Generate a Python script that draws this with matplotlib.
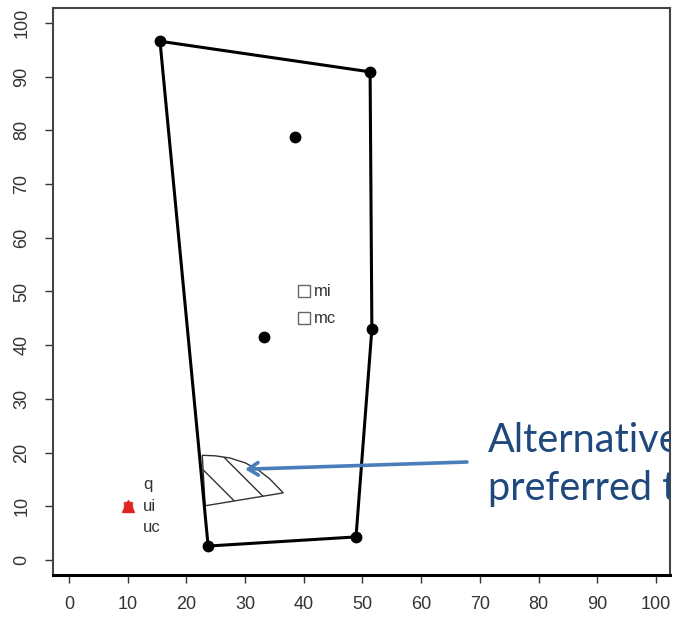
import matplotlib
matplotlib.use("Agg")
import matplotlib.pyplot as plt
from matplotlib.patches import Polygon

# hull of the alternatives (closed ring)
hull_x = [15.5, 51.3, 51.6, 48.9, 23.7]
hull_y = [96.6, 90.9, 43.0, 4.3, 2.6]
# alternatives lying inside the hull
inner_x = [38.5, 33.2]
inner_y = [78.8, 41.5]
# reference points (open squares)
ref_labels = ["mi", "mc"]
ref_x = [40, 40]
ref_y = [50, 45]
# user point q / ui / uc
user_x = [10]
user_y = [10]
user_labels = ["q", "ui", "uc"]
# hatched region: alternatives preferred to q
wedge_x = [22.7, 24.9, 27.4, 30.0, 32.2, 34.2, 36.5, 23.2]
wedge_y = [19.5, 19.4, 19.0, 18.1, 16.8, 15.1, 12.5, 10.1]
# callout
arrow_from = (67.8, 18.25)
arrow_to = (30.0, 16.9)
callout_lines = ["Alternative", "preferred t"]
callout_xy = [(71.4, 20.1), (71.4, 11.2)]

ticks = list(range(0, 101, 10))

plt.rcParams["hatch.linewidth"] = 1.0
plt.rcParams["hatch.color"] = "#333333"

fig = plt.figure(figsize=(6.75, 6.17), dpi=100)
ax = fig.add_axes([0.0781, 0.0681, 0.9145, 0.919])
ax.set_xlim(-2.78, 102.4)
ax.set_ylim(-2.79, 102.8)

# hatched region
ax.add_patch(Polygon(list(zip(wedge_x, wedge_y)), closed=True, facecolor="none",
                     edgecolor="#333333", hatch="\\", lw=1.0, zorder=2))

# hull + vertices
ax.plot(hull_x + hull_x[:1], hull_y + hull_y[:1], color="black", lw=2.2, zorder=3)
ax.plot(hull_x, hull_y, "o", color="black", ms=7.5, zorder=4)
ax.plot(inner_x, inner_y, "o", color="black", ms=7.5, zorder=4)

# reference squares
ax.plot(ref_x, ref_y, "s", mfc="white", mec="#666666", mew=1.0, ms=9, zorder=4)
for lab, x, y in zip(ref_labels, ref_x, ref_y):
    ax.annotate(lab, (x, y), xytext=(7, 0), textcoords="offset points", va="center",
                ha="left", fontsize=12, color="#333333", family="Liberation Sans")

# user point
ax.plot(user_x, user_y, "s", color="#d83a3a", ms=6, zorder=4)
ax.plot(user_x, user_y, "^", color="#e02424", ms=9, zorder=5)
for lab, dy in zip(user_labels, [16, 0, -15]):
    ax.annotate(lab, (user_x[0], user_y[0]), xytext=(11, dy), textcoords="offset points",
                va="center", ha="left", fontsize=12, color="#333333", family="Liberation Sans")

# callout arrow and text
ax.annotate("", xy=arrow_to, xytext=arrow_from,
            arrowprops=dict(arrowstyle="->,head_length=0.7,head_width=0.45",
                            color="#4a7ebb", lw=2.6, shrinkA=0, shrinkB=0), zorder=6)
for line, (x, y) in zip(callout_lines, callout_xy):
    ax.text(x, y, line, fontsize=28.5, color="#1f497d", family="Lato",
            ha="left", va="baseline", clip_on=True, zorder=6)

ax.set_xticks(ticks)
ax.set_yticks(ticks)
ax.tick_params(length=6, width=1.0, color="#333333", labelcolor="#333333", labelsize=13)
ax.tick_params(axis="x", pad=9)
ax.tick_params(axis="y", pad=10, labelrotation=90)
for lab in ax.get_xticklabels() + ax.get_yticklabels():
    lab.set_family("Liberation Sans")
for lab in ax.get_yticklabels():
    lab.set_va("center")
for s in ax.spines.values():
    s.set_color("#444444")
    s.set_linewidth(1.5)
ax.spines["bottom"].set_color("black")
ax.spines["bottom"].set_linewidth(2.2)

fig.savefig("out.png", dpi=100)
